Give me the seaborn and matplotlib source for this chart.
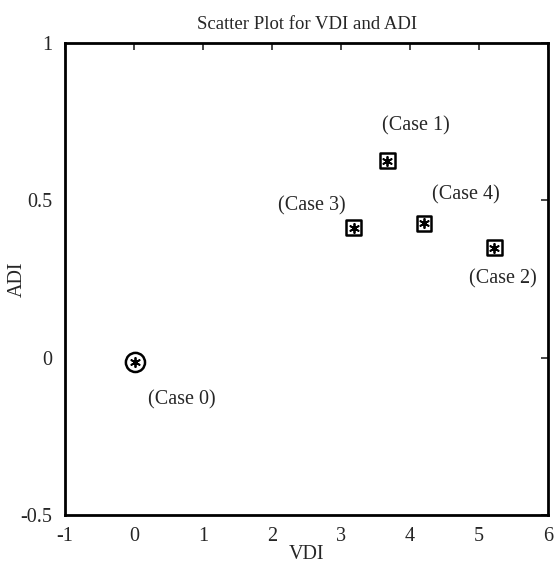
import matplotlib
matplotlib.use("Agg")
import matplotlib.pyplot as plt
import seaborn as sns
import pandas as pd

cases = ["(Case 0)", "(Case 1)", "(Case 2)", "(Case 3)", "(Case 4)"]
vdi = [0.02, 3.67, 5.22, 3.18, 4.20]
adi = [-0.015, 0.627, 0.35, 0.414, 0.427]
shapes = ["circle", "square", "square", "square", "square"]
label_dx = [0.67, 0.41, 0.12, -0.60, 0.60]
label_dy = [-0.12, 0.11, -0.10, 0.07, 0.09]
xticks = [-1, 0, 1, 2, 3, 4, 5, 6]
yticks = [-0.5, 0, 0.5, 1]
ytick_labels = ["-0.5", "0", "0.5", "1"]

df = pd.DataFrame({"VDI": vdi, "ADI": adi, "case": cases, "shape": shapes})

sns.set_style("white")
plt.rcParams["font.family"] = ["Liberation Serif", "DejaVu Serif"]

fig = plt.figure(figsize=(5.56, 5.65), dpi=100)
ax = fig.add_axes([0.117, 0.0885, 0.869, 0.835])

sq = df[df["shape"] == "square"]
ci = df[df["shape"] == "circle"]
sns.scatterplot(data=sq, x="VDI", y="ADI", marker="s", s=110, facecolors="none",
                edgecolor="black", linewidth=1.8, ax=ax, legend=False)
sns.scatterplot(data=ci, x="VDI", y="ADI", marker="o", s=190, facecolors="none",
                edgecolor="black", linewidth=1.8, ax=ax, legend=False)
sns.scatterplot(data=df, x="VDI", y="ADI", marker=(6, 2, 0), s=45, color="black",
                edgecolor="black", linewidth=1.3, ax=ax, legend=False)

for x, y, t, dx, dy in zip(vdi, adi, cases, label_dx, label_dy):
    ax.text(x + dx, y + dy, t, ha="center", va="center", fontsize=14.5)

ax.set_xlim(-1, 6)
ax.set_ylim(-0.5, 1)
ax.set_xticks(xticks)
ax.set_xticklabels([str(v) for v in xticks])
ax.set_yticks(yticks)
ax.set_yticklabels(ytick_labels)
ax.tick_params(direction="in", top=True, right=True, length=5, width=1.2,
               labelsize=14.5, pad=9)
for s in ax.spines.values():
    s.set_linewidth(2)
    s.set_color("black")
ax.set_xlabel("VDI", fontsize=14.5, va="center")
ax.set_ylabel("ADI", fontsize=14.5, va="center")
ax.xaxis.set_label_coords(0.5, -0.083)
ax.yaxis.set_label_coords(-0.098, 0.5)
ax.set_title("Scatter Plot for VDI and ADI", fontsize=13.5, pad=10)

fig.savefig("out.png", dpi=100)
